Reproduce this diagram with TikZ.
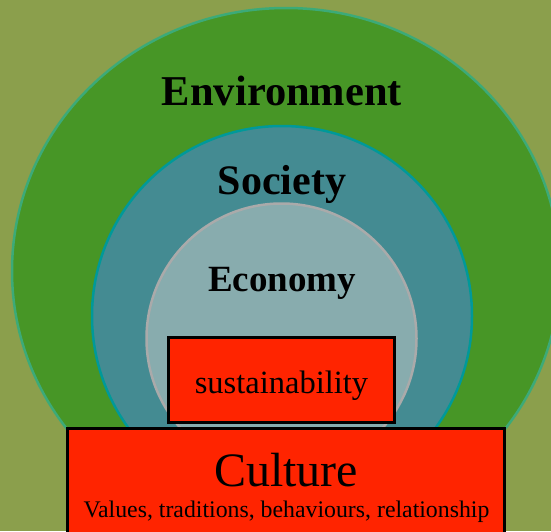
\documentclass[tikz,border=0pt]{standalone}
\usepackage{fontspec}
\setmainfont{Liberation Serif}
\usetikzlibrary{shapes.geometric}

\definecolor{field}{RGB}{139,159,76}
\definecolor{envfill}{RGB}{71,150,38}
\definecolor{envline}{RGB}{60,170,120}
\definecolor{socfill}{RGB}{68,139,146}
\definecolor{socline}{RGB}{0,153,153}
\definecolor{ecofill}{RGB}{136,172,174}
\definecolor{ecoline}{RGB}{170,170,170}
\definecolor{culred}{RGB}{255,36,0}

\begin{document}
\begin{tikzpicture}[x=1pt,y=-1pt,
	layer/.style={inner sep=0pt},
	redbox/.style={rectangle,draw=black,line width=3pt,fill=culred,inner sep=0pt},
	title/.style={anchor=base,font=\bfseries}]
	\useasboundingbox (0,0) rectangle (551,531);
	\clip (0,0) rectangle (551,531);
	\fill[field] (0,0) rectangle (551,531);

	% nested spheres
	\node (env) at (286,271) [layer,ellipse,minimum width=548,minimum height=526,fill=envfill,draw=envline,line width=2.5pt] {};
	\node (soc) at (282,316) [layer,circle,minimum size=380,fill=socfill,draw=socline,line width=2.5pt] {};
	\node (eco) at (281.5,338.5) [layer,circle,minimum size=270,fill=ecofill,draw=ecoline,line width=2.5pt] {};

	\node (envlabel) at (282,105) [title,font=\bfseries\fontsize{42.5}{48}\selectfont] {Environment};
	\node (soclabel) at (282,194) [title,font=\bfseries\fontsize{42}{48}\selectfont] {Society};
	\node (ecolabel) at (282,291) [title,font=\bfseries\fontsize{37}{42}\selectfont] {Economy};

	% boxes
	\node (sust) at (281,379.5) [redbox,minimum width=226,minimum height=85] {};
	\node (sustlabel) at (281.5,393) [anchor=base,font=\fontsize{32.5}{38}\selectfont] {sustainability};

	\node (culture) at (285.5,488) [redbox,minimum width=437,minimum height=120] {};
	\node (cultlabel) at (286,486) [anchor=base,font=\fontsize{48}{54}\selectfont] {Culture};
	\node (cultsub) at (286.5,517) [anchor=base,font=\fontsize{23.8}{28}\selectfont] {Values, traditions, behaviours, relationship};
\end{tikzpicture}
\end{document}
